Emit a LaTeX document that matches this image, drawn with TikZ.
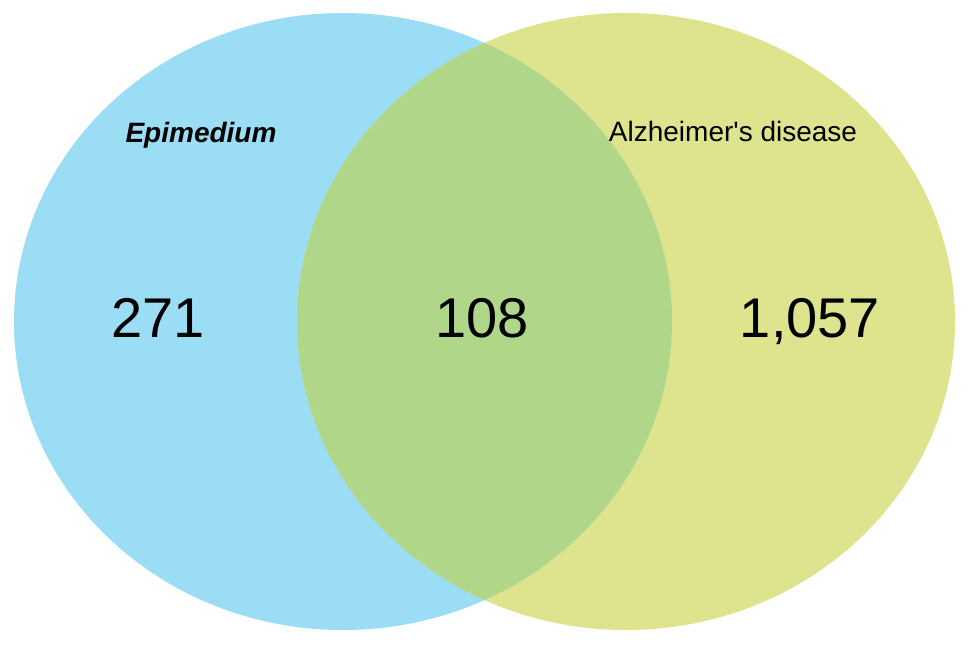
\documentclass[tikz,border=0pt]{standalone}
\usepackage{fontspec}
\setmainfont{Liberation Sans}
\definecolor{epiblue}{RGB}{155,221,245}
\definecolor{adyellow}{RGB}{222,228,142}
\definecolor{overlapgreen}{RGB}{176,214,138}
\tikzset{
  setlabel/.style={inner sep=0pt, anchor=base, font=\fontsize{28}{30}\selectfont},
  countlabel/.style={inner sep=0pt, anchor=base, font=\fontsize{56}{60}\selectfont},
}
\begin{document}
\begin{tikzpicture}[x=1pt,y=-1pt]
\useasboundingbox (0,0) rectangle (969,645);
\fill[epiblue] (343,321.5) ellipse [x radius=329, y radius=308.5];
\fill[adyellow] (626,321.5) ellipse [x radius=329, y radius=308.5];
\begin{scope}
  \clip (343,321.5) ellipse [x radius=329, y radius=308.5];
  \fill[overlapgreen] (626,321.5) ellipse [x radius=329, y radius=308.5];
\end{scope}
\node[setlabel] (epi) at (201,142) {\bfseries\itshape Epimedium};
\node[setlabel] (ad) at (733,141) {Alzheimer\textquotesingle s disease};
\node[countlabel] (left) at (158,337) {271};
\node[countlabel] (mid) at (482,337) {108};
\node[countlabel] (right) at (810,337) {1,057};
\end{tikzpicture}
\end{document}
